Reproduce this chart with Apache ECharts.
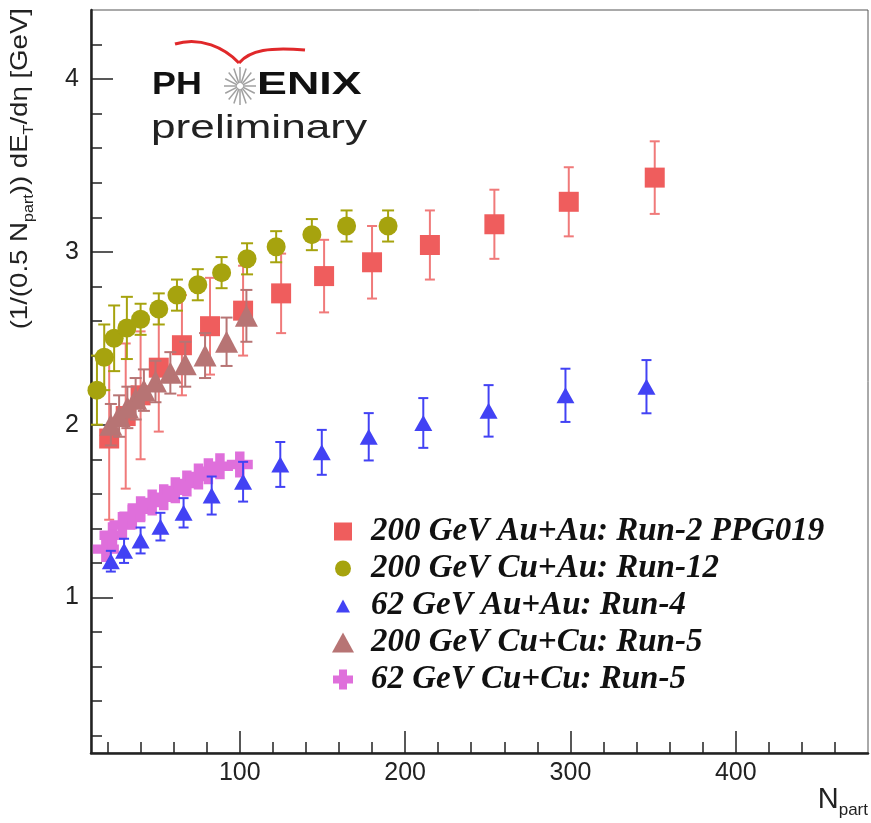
<!DOCTYPE html>
<html><head><meta charset="utf-8">
<script src="https://cdn.jsdelivr.net/npm/echarts@6/dist/echarts.min.js"></script>
<style>html,body{margin:0;padding:0;background:#fff}#c{width:871px;height:823px}</style>
</head><body><div id="c"></div>
<script>
// ---- axis ticks ----
const xMajorTicks = [100, 200, 300, 400];
const xMinorTicks = [20, 40, 60, 80, 120, 140, 160, 180, 220, 240, 260, 280, 320, 340, 360, 380, 420, 440, 460];
const yMajorTicks = [1, 2, 3, 4];
const yMinorTicks = [0.2, 0.4, 0.6, 0.8, 1.2, 1.4, 1.6, 1.8, 2.2, 2.4, 2.6, 2.8, 3.2, 3.4, 3.6, 3.8, 4.2];

// ---- series names ----
const names = [
  '200 GeV Au+Au: Run-2 PPG019',
  '200 GeV Cu+Au: Run-12',
  '62 GeV Au+Au: Run-4',
  '200 GeV Cu+Cu: Run-5',
  '62 GeV Cu+Cu: Run-5'
];

// ---- 200 GeV Au+Au ----
const auau200X = [21, 31, 40, 51, 65, 82, 102, 125, 151, 180, 215, 254, 299, 351];
const auau200Y = [1.92, 2.05, 2.17, 2.33, 2.46, 2.57, 2.66, 2.76, 2.86, 2.94, 3.04, 3.16, 3.29, 3.43];
const auau200E = [0.47, 0.42, 0.37, 0.37, 0.29, 0.28, 0.26, 0.23, 0.21, 0.21, 0.20, 0.20, 0.20, 0.21];

// ---- 200 GeV Cu+Au ----
const cuau200X = [13.6, 18, 24, 31.7, 40, 51, 62, 74.6, 89, 104.4, 122, 143.6, 164.6, 189.7];
const cuau200Y = [2.20, 2.39, 2.50, 2.56, 2.61, 2.67, 2.75, 2.81, 2.88, 2.96, 3.03, 3.10, 3.15, 3.15];
const cuau200E = [0.20, 0.19, 0.19, 0.18, 0.09, 0.09, 0.09, 0.09, 0.09, 0.09, 0.09, 0.09, 0.09, 0.09];

// ---- 62 GeV Au+Au ----
const auau62X = [22, 30, 40, 52, 66, 83, 102, 124.5, 149.6, 178, 211, 250.5, 297, 346];
const auau62Y = [1.21, 1.27, 1.33, 1.41, 1.49, 1.59, 1.67, 1.77, 1.84, 1.93, 2.01, 2.08, 2.17, 2.22];
const auau62E = [0.06, 0.07, 0.075, 0.08, 0.085, 0.11, 0.115, 0.13, 0.13, 0.137, 0.144, 0.149, 0.154, 0.154];

// ---- 200 GeV Cu+Cu ----
const cucu200X = [22, 27, 32, 37, 42, 49, 58, 67, 79, 92, 104];
const cucu200Y = [2.00, 2.05, 2.10, 2.15, 2.20, 2.25, 2.30, 2.35, 2.40, 2.48, 2.63];
const cucu200E = [0.12, 0.12, 0.12, 0.12, 0.12, 0.12, 0.12, 0.13, 0.13, 0.14, 0.15];

// ---- 62 GeV Cu+Cu ----
const cucu62X = [19, 23, 29, 35, 40, 47, 54, 61, 68, 75, 81, 88, 100];
const cucu62Y = [1.28, 1.36, 1.42, 1.47, 1.51, 1.55, 1.58, 1.62, 1.66, 1.70, 1.73, 1.76, 1.77];
const cucu62E = [0.03, 0.03, 0.03, 0.03, 0.03, 0.03, 0.03, 0.03, 0.03, 0.03, 0.03, 0.03, 0.03];

const COL = ['#ef5d5d', '#a6a30e', '#4242f4', '#b77474', '#df6fdb'];
const CROSS = 'path://M7,0H15V7H22V15H15V22H7V15H0V7H7Z';

function pts(xs, ys) { return xs.map((x, i) => [x, ys[i]]); }
function errSeries(name, xs, ys, es, color, cap, z) {
  return {
    type: 'custom', name: name, xAxisIndex: 0, yAxisIndex: 0, z: z, silent: true,
    encode: { x: 0, y: 1 },
    data: xs.map((x, i) => [x, ys[i], es[i]]),
    renderItem: function (params, api) {
      const x = api.value(0), y = api.value(1), e = api.value(2);
      const t = api.coord([x, y + e]);
      const b = api.coord([x, y - e]);
      const st = { stroke: color, lineWidth: 2, fill: null };
      return { type: 'group', children: [
        { type: 'line', shape: { x1: t[0], y1: t[1], x2: b[0], y2: b[1] }, style: st },
        { type: 'line', shape: { x1: t[0] - cap, y1: t[1], x2: t[0] + cap, y2: t[1] }, style: st },
        { type: 'line', shape: { x1: b[0] - cap, y1: b[1], x2: b[0] + cap, y2: b[1] }, style: st }
      ]};
    }
  };
}
function scat(name, xs, ys, symbol, size, color, z) {
  return { type: 'scatter', name: name, xAxisIndex: 0, yAxisIndex: 0, z: z, symbol: symbol,
    symbolSize: size, itemStyle: { color: color, opacity: 1 }, data: pts(xs, ys) };
}

const series = [
  errSeries(names[0], auau200X, auau200Y, auau200E, '#f07a7a', 5, 2),
  scat(names[0], auau200X, auau200Y, 'rect', 20, COL[0], 3),
  errSeries(names[4], cucu62X, cucu62Y, cucu62E, COL[4], 4, 4),
  scat(names[4], cucu62X, cucu62Y, CROSS, 26, COL[4], 5),
  errSeries(names[1], cuau200X, cuau200Y, cuau200E, COL[1], 6, 6),
  scat(names[1], cuau200X, cuau200Y, 'circle', 19, COL[1], 7),
  errSeries(names[3], cucu200X, cucu200Y, cucu200E, COL[3], 6, 8),
  scat(names[3], cucu200X, cucu200Y, 'triangle', [23, 22], COL[3], 9),
  errSeries(names[2], auau62X, auau62Y, auau62E, COL[2], 5, 10),
  scat(names[2], auau62X, auau62Y, 'triangle', [18, 16], COL[2], 11)
];

const FF = '"Liberation Sans", Arial, Helvetica, sans-serif';

// logo starburst
const star = [];
for (let k = 0; k < 16; k++) {
  const a = k * Math.PI / 8;
  star.push({ type: 'line', shape: { x1: 240 + 3 * Math.cos(a), y1: 86 + 3 * Math.sin(a), x2: 240 + 16 * Math.cos(a), y2: 86 + 19 * Math.sin(a) },
    style: { stroke: '#a0a0a0', lineWidth: 1.5 } });
}

const option = {
  backgroundColor: '#ffffff',
  animation: false,
  grid: { left: 91, right: 3, top: 10, bottom: 70, show: true, borderColor: '#555', borderWidth: 1, outerBoundsMode: 'none' },
  xAxis: [
    { type: 'value', min: 10, max: 480, position: 'bottom',
      axisLine: { show: true, onZero: false, lineStyle: { color: '#222', width: 2.5 } },
      axisTick: { show: true, inside: true, length: 22, customValues: xMajorTicks, lineStyle: { color: '#222', width: 1.5 } },
      axisLabel: { show: true, customValues: xMajorTicks, margin: 8, fontSize: 25, fontFamily: FF, color: '#222' },
      splitLine: { show: false } },
    { type: 'value', min: 10, max: 480, position: 'bottom',
      axisLine: { show: false },
      axisTick: { show: true, inside: true, length: 11, customValues: xMinorTicks, lineStyle: { color: '#222', width: 1.5 } },
      axisLabel: { show: false }, splitLine: { show: false } }
  ],
  yAxis: [
    { type: 'value', min: 0.1, max: 4.4, position: 'left',
      axisLine: { show: true, onZero: false, lineStyle: { color: '#222', width: 2.5 } },
      axisTick: { show: true, inside: true, length: 22, customValues: yMajorTicks, lineStyle: { color: '#222', width: 1.5 } },
      axisLabel: { show: true, customValues: yMajorTicks, margin: 12, fontSize: 25, fontFamily: FF, color: '#222' },
      splitLine: { show: false } },
    { type: 'value', min: 0.1, max: 4.4, position: 'left',
      axisLine: { show: false },
      axisTick: { show: true, inside: true, length: 11, customValues: yMinorTicks, lineStyle: { color: '#222', width: 1.5 } },
      axisLabel: { show: false }, splitLine: { show: false } }
  ],
  legend: {
    orient: 'vertical', left: 327, top: 508, itemWidth: 22, itemHeight: 22, itemGap: 0,
    selectedMode: false,
    textStyle: { fontSize: 33, fontFamily: '"Liberation Serif", "Times New Roman", serif', fontWeight: 'bold', fontStyle: 'italic', color: '#111', lineHeight: 37, padding: [0, 0, 0, 12] },
    data: [
      { name: names[0], icon: 'path://M0,0M22,22M2,2L20,2L20,20L2,20Z', itemStyle: { color: COL[0] } },
      { name: names[1], icon: 'path://M0,0M22,22M3,11A8,8,0,1,1,19,11A8,8,0,1,1,3,11Z', itemStyle: { color: COL[1] } },
      { name: names[2], icon: 'path://M0,0M22,22M4,18L11,5L18,18Z', itemStyle: { color: COL[2] } },
      { name: names[3], icon: 'path://M0,0M22,22M0,21L11,1L22,21Z', itemStyle: { color: COL[3] } },
      { name: names[4], icon: 'path://M0,0M22,22M7,1H15V7H21V15H15V21H7V15H1V7H7Z', itemStyle: { color: COL[4] } }
    ]
  },
  graphic: [
    { type: 'text', x: 20, y: 8, rotation: Math.PI / 2, scaleX: 1.15, z: 100,
      style: { text: '(1/(0.5 N{sub|part})) dE{sub|T}/dη [GeV]', fill: '#222',
        fontSize: 24, fontFamily: FF, align: 'right', verticalAlign: 'middle',
        rich: { sub: { fontSize: 14, fontFamily: FF, fill: '#222', lineHeight: 14, padding: [18, 0, 0, 0] } } } },
    { type: 'text', x: 868, y: 800, z: 100,
      style: { text: 'N{sub|part}', fill: '#222', fontSize: 29, fontFamily: FF, align: 'right', verticalAlign: 'middle',
        rich: { sub: { fontSize: 17, fontFamily: FF, fill: '#222', lineHeight: 17, padding: [20, 0, 0, 0] } } } },
    // PHENIX preliminary logo
    { type: 'bezierCurve', z: 100, shape: { x1: 175, y1: 44, cpx1: 200, cpy1: 36, cpx2: 225, cpy2: 48, x2: 239, y2: 63 },
      style: { stroke: '#e0282a', lineWidth: 3, fill: null } },
    { type: 'bezierCurve', z: 100, shape: { x1: 239, y1: 63, cpx1: 250, cpy1: 50, cpx2: 270, cpy2: 47, x2: 305, y2: 50 },
      style: { stroke: '#e0282a', lineWidth: 3, fill: null } },
    { type: 'group', z: 100, children: star },
    { type: 'text', x: 152, y: 85, scaleX: 1.12, z: 100,
      style: { text: 'PH', fill: '#111', fontSize: 32, fontWeight: 'bold', fontFamily: FF, align: 'left', verticalAlign: 'middle' } },
    { type: 'text', x: 257, y: 85, scaleX: 1.4, z: 100,
      style: { text: 'ENIX', fill: '#111', fontSize: 32, fontWeight: 'bold', fontFamily: FF, align: 'left', verticalAlign: 'middle' } },
    { type: 'text', x: 151, y: 129, scaleX: 1.3, z: 100,
      style: { text: 'preliminary', fill: '#222', fontSize: 34, fontFamily: FF, align: 'left', verticalAlign: 'middle' } }
  ],
  series: series
};

const chart = echarts.init(document.getElementById('c'), null, { renderer: 'canvas' });
chart.setOption(option);
</script></body></html>
